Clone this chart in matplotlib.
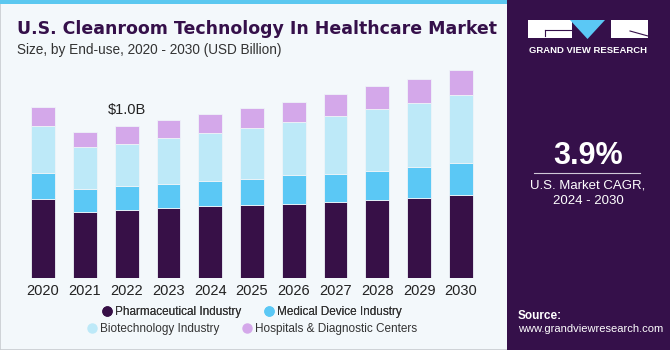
import numpy as np
import matplotlib.pyplot as plt
from matplotlib.patches import Rectangle, Polygon
from matplotlib.lines import Line2D

plt.rcParams['font.family'] = ['Liberation Sans', 'DejaVu Sans']

# data (USD billion)
years = ['2020', '2021', '2022', '2023', '2024', '2025', '2026', '2027', '2028', '2029', '2030']
pharma = [0.517, 0.434, 0.445, 0.456, 0.469, 0.478, 0.487, 0.498, 0.509, 0.526, 0.544]
med_device = [0.172, 0.151, 0.157, 0.157, 0.164, 0.170, 0.188, 0.186, 0.194, 0.203, 0.212]
biotech = [0.306, 0.273, 0.279, 0.303, 0.319, 0.336, 0.349, 0.380, 0.402, 0.419, 0.441]
hospitals = [0.127, 0.100, 0.118, 0.118, 0.124, 0.131, 0.131, 0.144, 0.151, 0.157, 0.164]
segments = ['Pharmaceutical Industry', 'Medical Device Industry',
            'Biotechnology Industry', 'Hospitals & Diagnostic Centers']
colors = ['#371047', '#5bc8f5', '#bde9f8', '#d4a8ea']
label_year = '2022'
label_text = '$1.0B'

W, H = 670, 350
fig = plt.figure(figsize=(6.7, 3.5), dpi=100)
fig.patch.set_facecolor('#f3f8fb')

# frame, top stripe and right panel
fig.patches.append(Rectangle((0, 0), 1, 1, transform=fig.transFigure,
                             fill=False, edgecolor='#c8ccd0', lw=1.2))
fig.patches.append(Rectangle((0, 1 - 4 / H), 507 / W, 4 / H, transform=fig.transFigure,
                             facecolor='#5bc8f0', edgecolor='none'))
fig.patches.append(Rectangle((507 / W, 0), 163 / W, 1, transform=fig.transFigure,
                             facecolor='#35104a', edgecolor='none'))

# gradient at bottom of the panel
gax = fig.add_axes([507 / W, 0, 163 / W, 70 / H])
grad = np.linspace(0, 1, 100)[:, None]
base = np.array([0x35, 0x10, 0x4a]) / 255
blue = np.array([0x4a, 0x90, 0xd0]) / 255
img = base + (blue - base) * (grad[::-1] ** 1.3)[:, :, None]
img = np.repeat(img, 10, axis=1)
gax.imshow(img, aspect='auto', extent=(0, 1, 0, 1), origin='upper')
for v in np.linspace(0, 1, 14):
    gax.plot([v, 0.5 + (v - 0.5) * 1.6], [0.95, 0], color='white', lw=0.4, alpha=0.15)
for h in [0.1, 0.25, 0.42, 0.6, 0.8]:
    gax.axhline(h, color='white', lw=0.4, alpha=0.15)
gax.set_xlim(0, 1)
gax.set_ylim(0, 1)
gax.axis('off')

# chart
ax = fig.add_axes([18 / W, 72 / H, 468 / W, 213.6 / H])
ax.set_facecolor('none')
x = np.arange(len(years))
bottom = np.zeros(len(years))
for vals, col, name in zip([pharma, med_device, biotech, hospitals], colors, segments):
    ax.bar(x, vals, width=0.57, bottom=bottom, color=col, edgecolor='#eef4f8',
           linewidth=0.6, label=name)
    bottom += np.array(vals)

i = years.index(label_year)
ax.text(x[i], bottom[i] + 0.1, label_text, ha='center', va='center',
        fontsize=10.5, color='#222222')

ax.set_xlim(-0.6, 10.6)
ax.set_ylim(0, 1.4)
ax.set_xticks(x)
ax.set_xticklabels(years, fontsize=10.5, color='#222222')
ax.tick_params(axis='x', length=0, pad=4)
ax.set_yticks([])
for s in ax.spines.values():
    s.set_visible(False)

# legend, two centred rows
handles = [Line2D([], [], marker='o', ls='none', markersize=6.5, color=c) for c in colors]
leg_kw = dict(ncol=2, frameon=False, fontsize=8.5, handletextpad=0.1, columnspacing=1.7,
              handlelength=1.2, loc='center', labelcolor='#333333')
leg1 = fig.legend(handles[:2], segments[:2], bbox_to_anchor=(251 / W, 1 - 312 / H), **leg_kw)
fig.legend(handles[2:], segments[2:], bbox_to_anchor=(251 / W, 1 - 329 / H), **leg_kw)
fig.add_artist(leg1)

# titles
fig.text(17 / W, 1 - 29 / H, 'U.S. Cleanroom Technology In Healthcare Market',
         fontsize=12.5, fontweight='bold', color='#35104a', va='center', ha='left',
         family='DejaVu Sans')
fig.text(17 / W, 1 - 50 / H, 'Size, by End-use, 2020 - 2030 (USD Billion)',
         fontsize=9.8, color='#333333', va='center', ha='left')

# logo
fig.patches.append(Rectangle((528 / W, 1 - 38 / H), 44 / W, 18 / H, transform=fig.transFigure,
                             facecolor='white', edgecolor='none'))
fig.patches.append(Polygon([(570 / W, 1 - 20 / H), (605 / W, 1 - 20 / H), (587.5 / W, 1 - 39 / H)],
                           closed=True, transform=fig.transFigure, facecolor='#5bc8f5',
                           edgecolor='none'))
fig.patches.append(Rectangle((611 / W, 1 - 38 / H), 37 / W, 18 / H, transform=fig.transFigure,
                             facecolor='white', edgecolor='none'))
fig.lines.append(Line2D([545 / W, 572 / W], [1 - 30 / H, 1 - 30 / H], transform=fig.transFigure,
                        color='#35104a', lw=0.8))
fig.lines.append(Line2D([545 / W, 545 / W], [1 - 30 / H, 1 - 36 / H], transform=fig.transFigure,
                        color='#35104a', lw=0.8))
fig.lines.append(Line2D([630 / W, 648 / W], [1 - 31 / H, 1 - 36 / H], transform=fig.transFigure,
                        color='#35104a', lw=0.8))
fig.text(588 / W, 1 - 50.5 / H, 'GRAND VIEW RESEARCH', fontsize=6.8, fontweight='bold',
         color='white', ha='center', va='center')

# CAGR block
fig.text(588 / W, 1 - 156 / H, '3.9%', fontsize=22, fontweight='bold', color='white',
         ha='center', va='center')
fig.lines.append(Line2D([534 / W, 640 / W], [1 - 173 / H, 1 - 173 / H], transform=fig.transFigure,
                        color='#d0c8d8', lw=0.8))
fig.text(588 / W, 1 - 185 / H, 'U.S. Market CAGR,', fontsize=9.5, color='white',
         ha='center', va='center')
fig.text(588 / W, 1 - 201 / H, '2024 - 2030', fontsize=9.5, color='white',
         ha='center', va='center')

# source
fig.text(518 / W, 1 - 316 / H, 'Source:', fontsize=8.5, fontweight='bold', color='white',
         ha='left', va='center')
fig.text(518 / W, 1 - 329.5 / H, 'www.grandviewresearch.com', fontsize=8, color='white',
         ha='left', va='center')

fig.savefig('out.png', dpi=100, facecolor=fig.get_facecolor())
